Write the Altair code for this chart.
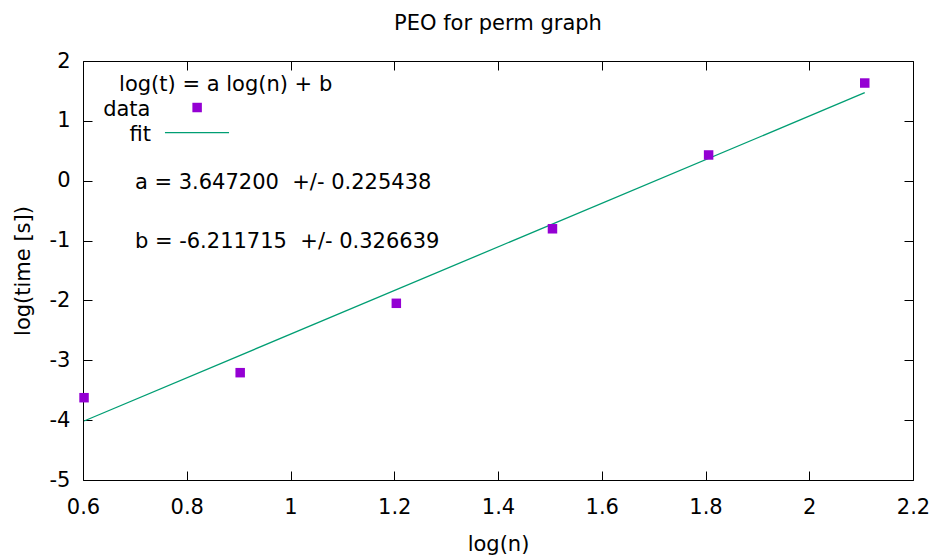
import altair as alt
import pandas as pd

# ---- data ----
log_n = [0.602, 0.903, 1.204, 1.505, 1.806, 2.107]
log_t = [-3.625, -3.207, -2.048, -0.803, 0.430, 1.632]

fit_x = [0.602, 2.107]
fit_y = [-4.014, 1.470]

x_ticks = [0.6, 0.8, 1.0, 1.2, 1.4, 1.6, 1.8, 2.0, 2.2]
y_ticks = [-5, -4, -3, -2, -1, 0, 1, 2]

title_text = "PEO for perm graph"
key_title = "log(t) = a log(n) + b"
key_labels = ["data", "fit"]
stat_labels = ["a = 3.647200\u00a0 +/- 0.225438", "b = -6.211715\u00a0 +/- 0.326639"]

# annotation anchor positions (data coordinates)
key_title_pos = [0.875, 1.595]
key_label_x = [0.730, 0.731]
key_label_y = [1.185, 0.760]
key_marker_pos = [0.820, 1.223]
key_line_x = [0.758, 0.8815]
key_line_y = [0.802, 0.802]
stat_x = [0.7, 0.7]
stat_y = [-0.035, -1.03]

FONT = "DejaVu Sans"
FS = 21
VIOLET = "#9400D3"
GREEN = "#009E73"

df = pd.DataFrame({"log_n": log_n, "log_t": log_t})
fit_df = pd.DataFrame({"log_n": fit_x, "log_t": fit_y})
key_title_df = pd.DataFrame({"x": [key_title_pos[0]], "y": [key_title_pos[1]], "t": [key_title]})
key_label_df = pd.DataFrame({"x": key_label_x, "y": key_label_y, "t": key_labels})
key_marker_df = pd.DataFrame({"x": [key_marker_pos[0]], "y": [key_marker_pos[1]]})
key_line_df = pd.DataFrame({"x": key_line_x, "y": key_line_y})
stat_df = pd.DataFrame({"x": stat_x, "y": stat_y, "t": stat_labels})

xscale = alt.Scale(domain=[0.6, 2.2], nice=False, zero=False)
yscale = alt.Scale(domain=[-5, 2], nice=False, zero=False)

common = dict(domain=False, grid=False, ticks=True, tickSize=9, tickColor="black",
              tickWidth=1, offset=-9, labelFont=FONT, labelFontSize=FS, labelColor="black",
              titleFont=FONT, titleFontSize=FS, titleFontWeight="normal", titleColor="black",
              labelFlush=False, labelOverlap=False, labelBound=False)

x_bottom = alt.Axis(orient="bottom", values=x_ticks, labelExpr="'' + datum.value",
                    title="log(n)", labelPadding=16, titlePadding=16, **common)
y_left = alt.Axis(orient="left", values=y_ticks, labelExpr="'' + datum.value",
                  title="log(time [s])", labelPadding=13, titlePadding=16, **common)
x_top = alt.Axis(orient="top", values=x_ticks, labels=False, title=None, **common)
y_right = alt.Axis(orient="right", values=y_ticks, labels=False, title=None, **common)

points = alt.Chart(df).mark_point(shape="square", filled=True, size=90, color=VIOLET, opacity=1).encode(
    x=alt.X("log_n:Q", scale=xscale, axis=x_bottom),
    y=alt.Y("log_t:Q", scale=yscale, axis=y_left),
)

fit = alt.Chart(fit_df).mark_line(color=GREEN, strokeWidth=1.3).encode(
    x=alt.X("log_n:Q", scale=xscale, axis=x_top),
    y=alt.Y("log_t:Q", scale=yscale, axis=y_right),
)

ktitle = alt.Chart(key_title_df).mark_text(font=FONT, fontSize=FS, align="center", baseline="middle", color="black").encode(
    x=alt.X("x:Q", scale=xscale, axis=None), y=alt.Y("y:Q", scale=yscale, axis=None), text="t:N")

klabels = alt.Chart(key_label_df).mark_text(font=FONT, fontSize=FS, align="right", baseline="middle", color="black").encode(
    x=alt.X("x:Q", scale=xscale, axis=None), y=alt.Y("y:Q", scale=yscale, axis=None), text="t:N")

kmarker = alt.Chart(key_marker_df).mark_point(shape="square", filled=True, size=90, color=VIOLET, opacity=1).encode(
    x=alt.X("x:Q", scale=xscale, axis=None), y=alt.Y("y:Q", scale=yscale, axis=None))

kline = alt.Chart(key_line_df).mark_line(color=GREEN, strokeWidth=1.3).encode(
    x=alt.X("x:Q", scale=xscale, axis=None), y=alt.Y("y:Q", scale=yscale, axis=None))

stats = alt.Chart(stat_df).mark_text(font=FONT, fontSize=FS, align="left", baseline="middle", color="black").encode(
    x=alt.X("x:Q", scale=xscale, axis=None), y=alt.Y("y:Q", scale=yscale, axis=None), text="t:N")

chart = alt.layer(fit, points, ktitle, klabels, kmarker, kline, stats).resolve_axis(
    x="independent", y="independent"
).properties(
    width=830, height=419,
    title=alt.TitleParams(title_text, font=FONT, fontSize=FS, fontWeight="normal", color="black",
                          anchor="middle", offset=16),
    autosize=alt.AutoSizeParams(type="none"),
    padding={"left": 83, "top": 61, "right": 25, "bottom": 76},
    background="white",
).configure_view(stroke="black", strokeWidth=1)

chart.save("out.html", embed_options={"renderer": "svg", "actions": False})
